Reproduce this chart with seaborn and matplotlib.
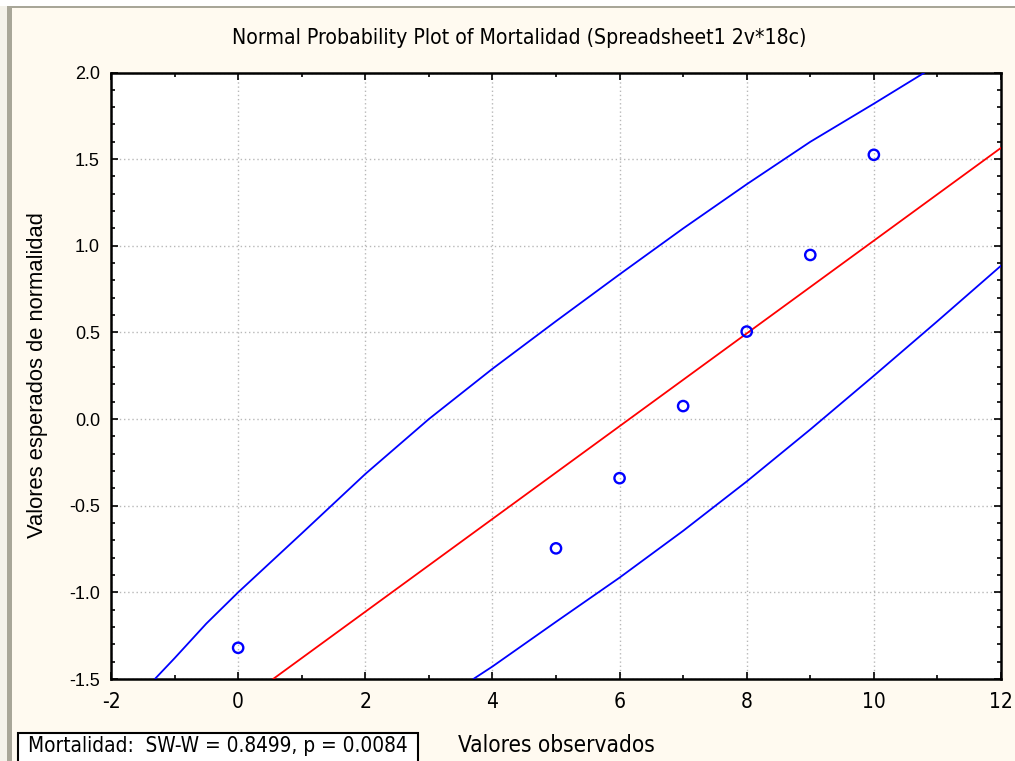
import numpy as np
import pandas as pd
import matplotlib
matplotlib.use("Agg")
import matplotlib.pyplot as plt
from matplotlib import font_manager
from matplotlib.font_manager import FontProperties
from matplotlib.patches import Rectangle
from matplotlib.ticker import MultipleLocator
import seaborn as sns

# ---- data ----
obs_x = [0, 5, 6, 7, 8, 9, 10]
obs_y = [-1.32, -0.746, -0.341, 0.075, 0.505, 0.947, 1.525]

fit_x = [0.55, 12.0]
fit_y = [-1.5, 1.565]

upper_x = [-1.31, -1.0, -0.5, 0.0, 1.0, 2.0, 3.0, 4.0, 5.0, 6.0, 7.0, 8.0, 9.0, 10.0, 10.8]
upper_y = [-1.5, -1.38, -1.18, -1.0, -0.66, -0.317, 0.0, 0.29, 0.565, 0.835, 1.10, 1.355, 1.60, 1.82, 2.0]

lower_x = [3.70, 4.0, 5.0, 6.0, 7.0, 8.0, 9.0, 10.0, 11.0, 12.0]
lower_y = [-1.5, -1.428, -1.17, -0.915, -0.645, -0.36, -0.06, 0.25, 0.565, 0.885]

title = "Normal Probability Plot of Mortalidad (Spreadsheet1 2v*18c)"
xlabel = "Valores observados"
ylabel = "Valores esperados de normalidad"
legend_text = "Mortalidad:  SW-W = 0.8499, p = 0.0084"

xticks = [-2, 0, 2, 4, 6, 8, 10, 12]
yticks = [-1.5, -1.0, -0.5, 0.0, 0.5, 1.0, 1.5, 2.0]

# ---- fonts ----
sns.set_theme(style="white")
regular = "Liberation Sans"
plt.rcParams["font.family"] = [regular, "DejaVu Sans"]
plt.rcParams["text.color"] = "black"
plt.rcParams["xtick.color"] = "black"
plt.rcParams["ytick.color"] = "black"
plt.rcParams["xtick.labelcolor"] = "black"
plt.rcParams["ytick.labelcolor"] = "black"

narrow_path = None
prefs = ["LiberationSansNarrow-Regular", "DejaVuSansCondensed.ttf", "Condensed-Regular", "Narrow-Regular"]
files = [f.fname for f in font_manager.fontManager.ttflist]
for p in prefs:
    hits = [f for f in files if p in f.split("/")[-1]]
    if hits:
        narrow_path = hits[0]
        break


def nfp(size):
    if narrow_path:
        return FontProperties(fname=narrow_path, size=size)
    return FontProperties(family=regular, size=size)


bg = "#fffaf0"
W, H = 1015, 761
fig = plt.figure(figsize=(W / 100, H / 100), dpi=100, facecolor=bg)

# window-like frame lines
fig.patches.append(Rectangle((0, 0), 7 / W, 1, transform=fig.transFigure,
                             facecolor="#f4f2ea", edgecolor="none", zorder=0))
fig.patches.append(Rectangle((7 / W, 0), 5 / W, 1 - 6 / H, transform=fig.transFigure,
                             facecolor="#a8a698", edgecolor="none", zorder=0))
fig.patches.append(Rectangle((7 / W, 1 - 8 / H), 1 - 7 / W, 2 / H, transform=fig.transFigure,
                             facecolor="#a8a698", edgecolor="none", zorder=0))
fig.patches.append(Rectangle((0, 1 - 6 / H), 1, 6 / H, transform=fig.transFigure,
                             facecolor="#ffffff", edgecolor="none", zorder=0))

ax = fig.add_axes([111 / W, 1 - 679 / H, (1001 - 111) / W, (679 - 72.5) / H])
ax.set_facecolor("white")

df_pts = pd.DataFrame({"x": obs_x, "y": obs_y})
df_fit = pd.DataFrame({"x": fit_x, "y": fit_y})
df_up = pd.DataFrame({"x": upper_x, "y": upper_y})
df_lo = pd.DataFrame({"x": lower_x, "y": lower_y})

for d, c in [(df_up, "#0000ff"), (df_lo, "#0000ff"), (df_fit, "#ff0000")]:
    sns.lineplot(data=d, x="x", y="y", sort=False, estimator=None, color=c,
                 linewidth=1.3, ax=ax, zorder=3)
sns.scatterplot(data=df_pts, x="x", y="y", marker="o", s=55, facecolors="none",
                edgecolor="#0000ff", linewidth=1.7, ax=ax, zorder=4)

ax.set_xlim(-2, 12)
ax.set_ylim(-1.5, 2.0)
ax.set_xticks(xticks)
ax.set_yticks(yticks)
ax.set_xticklabels([str(t) for t in xticks], fontproperties=nfp(15), color="black")
ax.set_yticklabels([f"{t:.1f}" for t in yticks], fontfamily=regular, fontsize=13, color="black")
ax.xaxis.set_minor_locator(MultipleLocator(1))
ax.yaxis.set_minor_locator(MultipleLocator(0.1))
ax.tick_params(which="both", direction="in", top=True, right=True, bottom=True, left=True,
               color="black", width=1.2)
ax.tick_params(which="major", length=5)
ax.tick_params(which="minor", length=3)
ax.tick_params(axis="x", which="major", pad=9)
ax.tick_params(axis="y", which="major", pad=8)
ax.grid(True, which="major", color="#b8b8b8", linestyle=(0, (1, 2)), linewidth=1.0)
ax.set_axisbelow(True)
for s in ax.spines.values():
    s.set_color("black")
    s.set_linewidth(1.8)
ax.set_xlabel("")
ax.set_ylabel("")

renderer = fig.canvas.get_renderer()


def fit_text(t, target, axis="w"):
    bb = t.get_window_extent(renderer)
    cur = bb.width if axis == "w" else bb.height
    t.set_fontsize(t.get_fontsize() * target / cur)


t1 = fig.text(519 / W, 1 - 38 / H, title, ha="center", va="center", fontproperties=nfp(13),
              color="black")
fit_text(t1, 575)
t2 = fig.text(556 / W, 1 - 745 / H, xlabel, ha="center", va="center", fontproperties=nfp(14),
              color="black")
fit_text(t2, 198)
t3 = fig.text(38 / W, 1 - 375 / H, ylabel, ha="center", va="center", rotation=90,
              fontfamily=regular, fontsize=14, color="black")
fit_text(t3, 330, "h")

fig.patches.append(Rectangle((18 / W, -0.02), (418 - 18) / W, 0.02 + 28 / H,
                             transform=fig.transFigure, facecolor="white",
                             edgecolor="black", linewidth=1.5, zorder=5))
t4 = fig.text(28 / W, 1 - 746 / H, legend_text, ha="left", va="center",
              fontproperties=nfp(14), zorder=6, color="black")
fit_text(t4, 382)

fig.savefig("out.png", dpi=100, facecolor=bg)
